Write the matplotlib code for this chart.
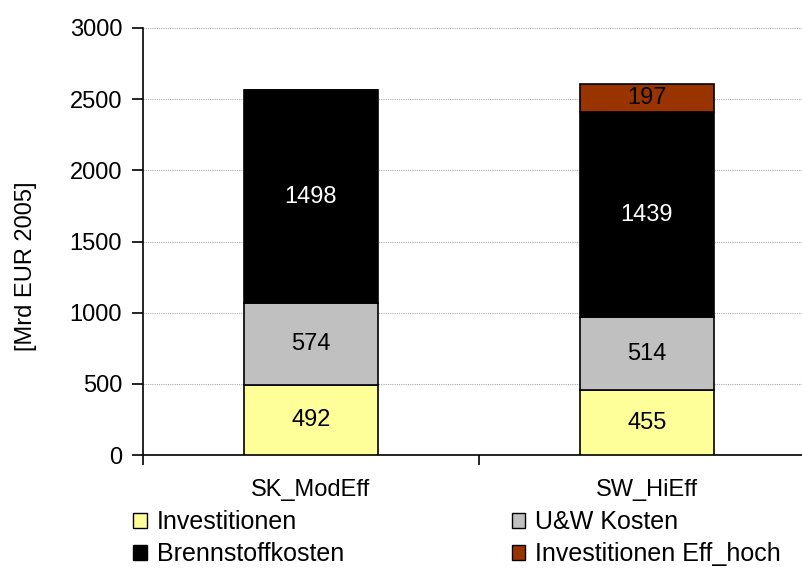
import numpy as np
import matplotlib.pyplot as plt
from matplotlib.patches import Patch

plt.rcParams['font.family'] = ['Liberation Sans', 'DejaVu Sans']

scenarios = ['SK_ModEff', 'SW_HiEff']
investitionen = [492, 455]
uw_kosten = [574, 514]
brennstoff = [1498, 1439]
inv_eff_hoch = [0, 197]

series = [('Investitionen', investitionen, '#FFFF99', 'black'),
          ('U&W Kosten', uw_kosten, '#C0C0C0', 'black'),
          ('Brennstoffkosten', brennstoff, '#000000', 'white'),
          ('Investitionen Eff_hoch', inv_eff_hoch, '#993300', 'black')]

fs = 17

fig = plt.figure(figsize=(8.03, 5.70), dpi=100)
ax = fig.add_axes([143/803, 1-455/570, 672/803, 427/570])

x = np.arange(len(scenarios))
bottom = np.zeros(len(scenarios))
for name, vals, col, tcol in series:
    vals = np.array(vals, dtype=float)
    ax.bar(x, vals, 0.4, bottom=bottom, color=col, edgecolor='black', linewidth=1.2, zorder=3)
    for xi, v, b in zip(x, vals, bottom):
        if v > 0:
            ax.text(xi, b + v/2, f'{int(v)}', ha='center', va='center', color=tcol, fontsize=fs, zorder=4)
    bottom += vals

ax.set_xlim(-0.5, 1.5)
ax.set_ylim(0, 3000)
ax.set_yticks(np.arange(0, 3001, 500))
ax.yaxis.grid(True, color='#aaaaaa', linestyle=(0, (1, 1)), linewidth=0.8, zorder=0)
ax.set_xticks([-0.5, 0.5, 1.5])
ax.set_xticklabels([])
ax.set_xticks(x, minor=True)
ax.set_xticklabels(scenarios, minor=True)
ax.tick_params(axis='x', which='minor', length=0, pad=17, labelsize=fs)
ax.tick_params(axis='x', which='major', length=7, width=1.2, direction='out')
ax.tick_params(axis='y', length=8, width=1.2, direction='out', labelsize=fs, pad=7)
for s in ['top', 'right']:
    ax.spines[s].set_visible(False)
for s in ['left', 'bottom']:
    ax.spines[s].set_linewidth(1.2)
ax.set_ylabel('[Mrd EUR 2005]', fontsize=fs)
ax.yaxis.set_label_coords(-106/672, 0.443)

handles = [Patch(facecolor=series[i][2], edgecolor='black', label=series[i][0]) for i in [0, 2, 1, 3]]
fig.legend(handles=handles, ncol=2, loc='upper left', bbox_to_anchor=(133/803, 1-510/570),
           frameon=False, fontsize=18, handlelength=0.55, handleheight=0.55, handletextpad=0.4,
           columnspacing=6.7, labelspacing=0.33, borderaxespad=0, borderpad=0)

fig.savefig('out.png', dpi=100)
